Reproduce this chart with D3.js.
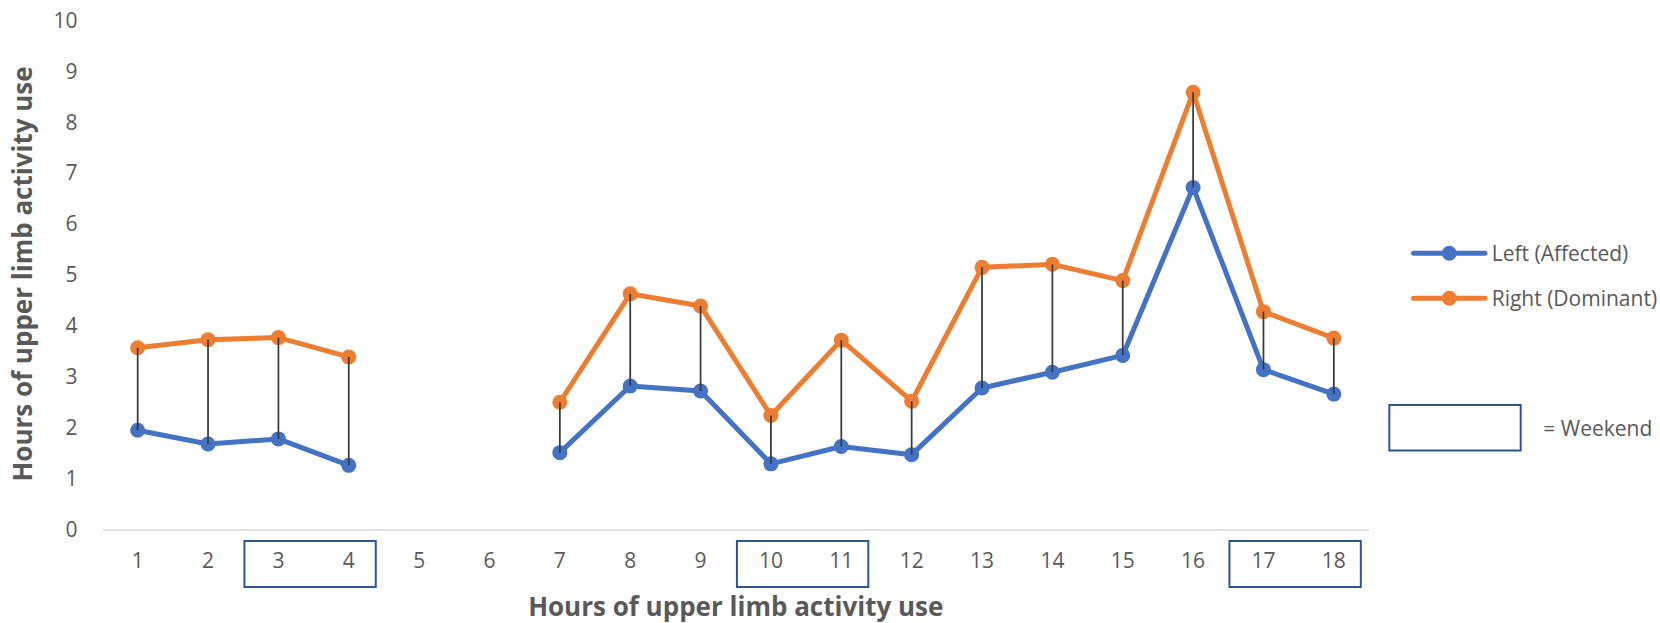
<!DOCTYPE html>
<html>
<head>
<meta charset="utf-8">
<script src="https://cdn.jsdelivr.net/npm/d3@7/dist/d3.min.js"></script>
<style>
  html, body { margin: 0; padding: 0; background: #ffffff; }
  svg { display: block; }
  text { font-family: "Open Sans", "DejaVu Sans", sans-serif; fill: #595959; }
</style>
</head>
<body>
<svg id="chart" width="1660" height="623"></svg>
<script>
// ---- data ----
const categories = ["1","2","3","4","5","6","7","8","9","10","11","12","13","14","15","16","17","18"];
const leftAffected  = [1.95, 1.68, 1.78, 1.26, null, null, 1.51, 2.82, 2.72, 1.29, 1.63, 1.47, 2.78, 3.09, 3.42, 6.72, 3.14, 2.66];
const rightDominant = [3.57, 3.73, 3.77, 3.39, null, null, 2.50, 4.63, 4.39, 2.24, 3.72, 2.52, 5.15, 5.21, 4.89, 8.59, 4.28, 3.76];
const yTicks = [0,1,2,3,4,5,6,7,8,9,10];
const seriesNames = ["Left (Affected)", "Right (Dominant)"];
const weekendStart = ["3","10","17"];
const weekendEnd   = ["4","11","18"];
const axisTitle = "Hours of upper limb activity use";
const weekendLabel = "= Weekend";

// ---- styles ----
const colors = ["#4472C4", "#ED7D31"];
const boxColor = "#2F5597";

const svg = d3.select("#chart");
const x = d3.scaleBand().domain(categories).range([102.5, 1369]).padding(0);
const y = d3.scaleLinear().domain([0, 10]).range([529.5, 20.5]);
const cx = c => x(c) + x.bandwidth() / 2;

// y axis
const yAxis = svg.append("g").attr("transform", `translate(${x.range()[0]},0)`)
  .call(d3.axisLeft(y).tickValues(yTicks).tickSize(0).tickPadding(25).tickFormat(d3.format("d")));
yAxis.select(".domain").remove();
yAxis.selectAll("text").style("font-size", "21px").style("font-family", "'Open Sans'").attr("fill", "#595959");

// x axis
const xAxis = svg.append("g").attr("transform", `translate(0,${y(0)})`)
  .call(d3.axisBottom(x).tickSize(0).tickSizeOuter(0).tickPadding(24));
xAxis.select(".domain").attr("stroke", "#D9D9D9").attr("stroke-width", 1.5);
xAxis.selectAll("text").style("font-size", "21px").style("font-family", "'Open Sans'").attr("fill", "#595959");

// weekend boxes
svg.append("g").selectAll("rect").data(weekendStart.map((s, i) => [s, weekendEnd[i]])).join("rect")
  .attr("x", d => cx(d[0]) - 34)
  .attr("y", 541)
  .attr("width", d => cx(d[1]) + 27 - (cx(d[0]) - 34))
  .attr("height", 46)
  .attr("fill", "none").attr("stroke", boxColor).attr("stroke-width", 2);

// series
const series = [leftAffected, rightDominant];
const line = d3.line()
  .defined(d => d.v != null)
  .x(d => cx(d.c))
  .y(d => y(d.v));

series.forEach((vals, si) => {
  const pts = categories.map((c, i) => ({c, v: vals[i]}));
  svg.append("path").datum(pts)
    .attr("d", line)
    .attr("fill", "none")
    .attr("stroke", colors[si])
    .attr("stroke-width", 5)
    .attr("stroke-linejoin", "round");
  svg.append("g").selectAll("circle").data(pts.filter(d => d.v != null)).join("circle")
    .attr("cx", d => cx(d.c)).attr("cy", d => y(d.v)).attr("r", 7.5)
    .attr("fill", colors[si]);
});

// drop lines (high-low lines)
svg.append("g").selectAll("line")
  .data(categories.map((c, i) => ({c, lo: leftAffected[i], hi: rightDominant[i]})).filter(d => d.lo != null && d.hi != null))
  .join("line")
  .attr("x1", d => cx(d.c)).attr("x2", d => cx(d.c))
  .attr("y1", d => y(d.hi)).attr("y2", d => y(d.lo))
  .attr("stroke", "#3a3a3a").attr("stroke-width", 1.75);

// axis titles
svg.append("text")
  .attr("transform", "translate(32,274) rotate(-90)")
  .attr("text-anchor", "middle")
  .style("font-size", "26px").style("font-weight", "bold")
  .text(axisTitle);
svg.append("text")
  .attr("x", (x.range()[0] + x.range()[1]) / 2).attr("y", 616)
  .attr("text-anchor", "middle")
  .style("font-size", "26px").style("font-weight", "bold")
  .text(axisTitle);

// legend
const legendY = [253.3, 298.3];
seriesNames.forEach((name, i) => {
  const g = svg.append("g");
  g.append("line").attr("x1", 1413.5).attr("x2", 1485).attr("y1", legendY[i]).attr("y2", legendY[i])
    .attr("stroke", colors[i]).attr("stroke-width", 5).attr("stroke-linecap", "round");
  g.append("circle").attr("cx", 1449.3).attr("cy", legendY[i]).attr("r", 7.5).attr("fill", colors[i]);
  g.append("text").attr("x", 1491.7).attr("y", legendY[i]).attr("dy", "0.36em")
    .style("font-size", "21px").text(name);
});

// weekend legend
svg.append("rect").attr("x", 1389.3).attr("y", 405).attr("width", 131.4).attr("height", 45.5)
  .attr("fill", "none").attr("stroke", boxColor).attr("stroke-width", 2);
svg.append("text").attr("x", 1543.3).attr("y", 428.3).attr("dy", "0.36em")
  .style("font-size", "21px").text(weekendLabel);
</script>
</body>
</html>
